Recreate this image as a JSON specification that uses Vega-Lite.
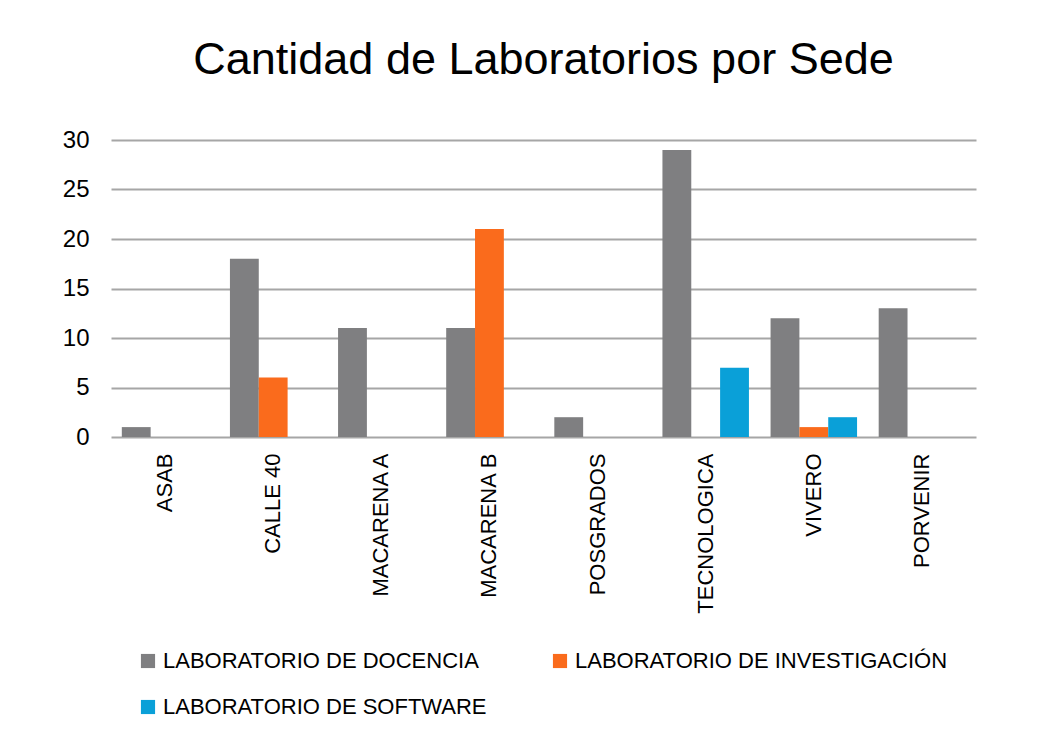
{
  "$schema": "https://vega.github.io/schema/vega-lite/v6.json",
  "autosize": "none",
  "width": 865,
  "height": 297,
  "padding": {"left": 111, "top": 140, "right": 74, "bottom": 299},
  "background": "white",
  "title": {
    "text": "Cantidad de Laboratorios por Sede",
    "fontSize": 45,
    "font": "Liberation Sans",
    "fontWeight": "normal",
    "color": "#000000",
    "anchor": "middle",
    "offset": 45
  },
  "data": {
    "values": [
      {"sede": "ASAB", "tipo": "LABORATORIO DE DOCENCIA", "cantidad": 1},
      {"sede": "CALLE 40", "tipo": "LABORATORIO DE DOCENCIA", "cantidad": 18},
      {"sede": "CALLE 40", "tipo": "LABORATORIO DE INVESTIGACIÓN", "cantidad": 6},
      {"sede": "MACARENA A", "tipo": "LABORATORIO DE DOCENCIA", "cantidad": 11},
      {"sede": "MACARENA B", "tipo": "LABORATORIO DE DOCENCIA", "cantidad": 11},
      {"sede": "MACARENA B", "tipo": "LABORATORIO DE INVESTIGACIÓN", "cantidad": 21},
      {"sede": "POSGRADOS", "tipo": "LABORATORIO DE DOCENCIA", "cantidad": 2},
      {"sede": "TECNOLOGICA", "tipo": "LABORATORIO DE DOCENCIA", "cantidad": 29},
      {"sede": "TECNOLOGICA", "tipo": "LABORATORIO DE SOFTWARE", "cantidad": 7},
      {"sede": "VIVERO", "tipo": "LABORATORIO DE DOCENCIA", "cantidad": 12},
      {"sede": "VIVERO", "tipo": "LABORATORIO DE INVESTIGACIÓN", "cantidad": 1},
      {"sede": "VIVERO", "tipo": "LABORATORIO DE SOFTWARE", "cantidad": 2},
      {"sede": "PORVENIR", "tipo": "LABORATORIO DE DOCENCIA", "cantidad": 13}
    ]
  },
  "mark": {"type": "bar"},
  "encoding": {
    "x": {
      "field": "sede",
      "type": "nominal",
      "sort": ["ASAB", "CALLE 40", "MACARENA A", "MACARENA B", "POSGRADOS", "TECNOLOGICA", "VIVERO", "PORVENIR"],
      "scale": {"paddingInner": 0.2, "paddingOuter": 0.1},
      "axis": {
        "title": null,
        "labelAngle": 270,
        "labelAlign": "right",
        "labelBaseline": "middle",
        "labelPadding": 16,
        "labelFontSize": 22,
        "labelFont": "Liberation Sans",
        "labelColor": "#000000",
        "ticks": false,
        "domain": false,
        "grid": false
      }
    },
    "xOffset": {
      "field": "tipo",
      "type": "nominal",
      "scale": {"domain": ["LABORATORIO DE DOCENCIA", "LABORATORIO DE INVESTIGACIÓN", "LABORATORIO DE SOFTWARE"], "paddingInner": 0, "paddingOuter": 0}
    },
    "y": {
      "field": "cantidad",
      "type": "quantitative",
      "scale": {"domain": [0, 30]},
      "axis": {
        "title": null,
        "values": [0, 5, 10, 15, 20, 25, 30],
        "labelFontSize": 24,
        "labelFont": "Liberation Sans",
        "labelColor": "#000000",
        "labelPadding": 22,
        "ticks": false,
        "domain": false,
        "grid": true,
        "gridColor": "#a6a6a6",
        "gridWidth": 2
      }
    },
    "color": {
      "field": "tipo",
      "type": "nominal",
      "scale": {
        "domain": ["LABORATORIO DE DOCENCIA", "LABORATORIO DE INVESTIGACIÓN", "LABORATORIO DE SOFTWARE"],
        "range": ["#7f7f81", "#fa6b1c", "#0aa0d8"]
      },
      "legend": {
        "title": null,
        "orient": "none",
        "direction": "horizontal",
        "legendX": 26,
        "legendY": 510,
        "columns": 2,
        "columnPadding": 62,
        "rowPadding": 24,
        "symbolType": "square",
        "symbolSize": 200,
        "symbolStrokeWidth": 0,
        "labelFontSize": 22,
        "labelFont": "Liberation Sans",
        "labelColor": "#000000",
        "labelLimit": 500,
        "labelOffset": 4
      }
    }
  },
  "config": {
    "view": {"stroke": null}
  }
}
